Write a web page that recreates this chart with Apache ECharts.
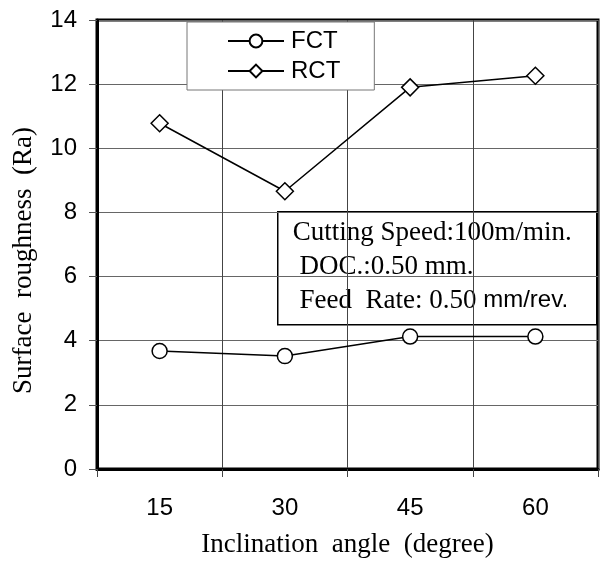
<!DOCTYPE html>
<html>
<head>
<meta charset="utf-8">
<script src="https://cdn.jsdelivr.net/npm/echarts@6/dist/echarts.min.js"></script>
<style>
  html, body { margin: 0; padding: 0; background: #fff; }
  #chart { width: 600px; height: 563px; }
</style>
</head>
<body>
<div id="chart"></div>
<script>
// inclination angle categories (degree)
const angles = ['15', '30', '45', '60'];
// surface roughness Ra
const fctValues = [3.68, 3.52, 4.13, 4.13];
const rctValues = [10.78, 8.66, 11.9, 12.26];

const serif = '"Liberation Serif", "Times New Roman", serif';
const sans = '"Liberation Sans", Arial, sans-serif';

const chart = echarts.init(document.getElementById('chart'));

const options = {
  backgroundColor: '#fff',
  animation: false,
  grid: {
    left: 97,
    right: 2,
    top: 20,
    bottom: 93,
    show: true,
    borderColor: '#000',
    borderWidth: 3,
  },
  legend: {
    data: ['FCT', 'RCT'],
    orient: 'vertical',
    left: 187,
    top: 22,
    padding: [7, 34, 7, 40],
    itemWidth: 56,
    itemHeight: 16,
    itemGap: 6,
    backgroundColor: '#fff',
    borderColor: '#777',
    borderWidth: 1,
    textStyle: {
      fontFamily: sans,
      fontSize: 24,
      lineHeight: 22,
      color: '#000',
      padding: [0, 0, 0, 2],
    },
  },
  xAxis: {
    type: 'category',
    data: angles,
    boundaryGap: true,
    name: 'Inclination  angle  (degree)',
    nameLocation: 'middle',
    nameGap: 62,
    nameTextStyle: { fontFamily: serif, fontSize: 27, color: '#000' },
    axisLine: { lineStyle: { color: '#000', width: 3 } },
    axisTick: { show: true, length: 8, lineStyle: { color: '#444' } },
    axisLabel: { fontFamily: sans, fontSize: 24, color: '#000', margin: 27 },
    splitLine: { show: true, lineStyle: { color: '#444', width: 1 } },
  },
  yAxis: {
    type: 'value',
    min: 0,
    max: 14,
    interval: 2,
    name: 'Surface  roughness  (Ra)',
    nameLocation: 'middle',
    nameGap: 60,
    nameTextStyle: { fontFamily: serif, fontSize: 27, color: '#000', padding: [0, 32, 0, 0] },
    axisLine: { show: true, lineStyle: { color: '#000', width: 3 } },
    axisTick: { show: true, length: 8, lineStyle: { color: '#555' } },
    axisLabel: { fontFamily: sans, fontSize: 24, color: '#000', margin: 20 },
    splitLine: { show: true, lineStyle: { color: '#666', width: 1 } },
  },
  graphic: [
    {
      type: 'group',
      left: 277,
      top: 211,
      z: 100,
      children: [
        {
          type: 'rect',
          shape: { x: 0, y: 0, width: 319, height: 113 },
          style: { fill: '#fff', stroke: '#000', lineWidth: 1.5 },
        },
        {
          type: 'text',
          x: 15,
          y: 4,
          style: {
            text: '{s|Cutting Speed:100m/min.}\n{s| DOC.:0.50 mm.}\n{s| Feed  Rate: 0.50 }{a|mm/rev.}',
            rich: {
              s: { fontFamily: serif, fontSize: 27, lineHeight: 34, fill: '#000' },
              a: { fontFamily: sans, fontSize: 24, lineHeight: 34, fill: '#000' },
            },
          },
        },
      ],
    },
  ],
  series: [
    {
      name: 'FCT',
      type: 'line',
      data: fctValues,
      symbol: 'circle',
      symbolSize: 15,
      lineStyle: { color: '#000', width: 1.5 },
      itemStyle: { color: '#fff', borderColor: '#000', borderWidth: 1.5 },
      z: 5,
    },
    {
      name: 'RCT',
      type: 'line',
      data: rctValues,
      symbol: 'diamond',
      symbolSize: [17, 17],
      lineStyle: { color: '#000', width: 1.5 },
      itemStyle: { color: '#fff', borderColor: '#000', borderWidth: 1.5 },
      z: 5,
    },
  ],
};

chart.setOption(options);

window.addEventListener('resize', () => {
  chart.resize();
});
</script>
</body>
</html>
